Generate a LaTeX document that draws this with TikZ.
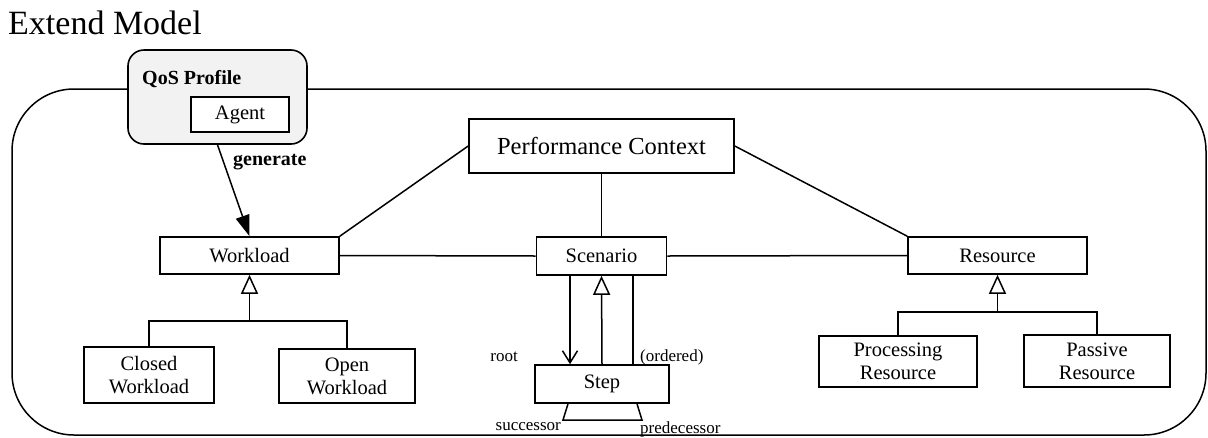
\documentclass[tikz,border=0pt]{standalone}
\usepackage{fontspec}
\setmainfont{Liberation Serif}
\usetikzlibrary{arrows.meta}

\tikzset{
  conn/.style={line width=1.5pt},
  cls/.style={draw, line width=1.6pt, fill=white, inner sep=0pt,
    font=\fontsize{20.5}{23}\selectfont, align=center},
  gen/.style={conn, -{Triangle[open, length=19pt, width=17pt, line width=1.5pt]}},
  nav/.style={conn, -{Straight Barb[length=12pt, width=15pt, line width=1.5pt]}},
  assoc/.style={conn, -{Triangle[length=21pt, width=14pt]}},
  rolelbl/.style={inner sep=0pt, font=\fontsize{17}{20}\selectfont},
  boldlbl/.style={inner sep=0pt, font=\fontsize{20}{23}\selectfont\bfseries},
}

\begin{document}
\begin{tikzpicture}[x=1pt, y=-1pt]
  \useasboundingbox (0,0) rectangle (1208,437);

  % title
  \node[anchor=base west, inner sep=0pt, font=\fontsize{34}{40}\selectfont] (title) at (8,34) {Extend Model};

  % enclosing package frame
  \draw[conn, rounded corners=62pt] (12,89) rectangle (1206,435);

  % QoS profile with its agent
  \node[draw, line width=1.6pt, rounded corners=16pt, fill=gray!10,
        minimum width=179pt, minimum height=94pt] (qos) at (217.5,97) {};
  \node[boldlbl, anchor=west] (qoslbl) at (142,79) {QoS Profile};
  \node[cls, minimum width=98pt, minimum height=35pt] (agent) at (240,114.5) {Agent};

  % classes
  \node[cls, minimum width=265pt, minimum height=54pt,
        font=\fontsize{24.5}{28}\selectfont] (pc) at (601.5,146) {Performance Context};
  \node[cls, minimum width=179pt, minimum height=37pt] (wl) at (249.5,255.5) {Workload};
  \node[cls, minimum width=130pt, minimum height=38pt] (scen) at (601.5,256) {Scenario};
  \node[cls, minimum width=179pt, minimum height=37pt] (res) at (997.5,255.5) {Resource};
  \node[cls, minimum width=130pt, minimum height=56pt] (cw) at (149,375) {Closed\\Workload};
  \node[cls, minimum width=136pt, minimum height=54pt] (ow) at (347,376) {Open\\Workload};
  \node[cls, minimum width=134pt, minimum height=38pt] (step) at (602,384) {Step};
  \node[cls, minimum width=158pt, minimum height=51pt] (pr) at (898,361.5) {Processing\\Resource};
  \node[cls, minimum width=146pt, minimum height=52pt] (pa) at (1097,361) {Passive\\Resource};

  % generate dependency
  \draw[assoc] (qos.south) -- (wl.north);
  \node[boldlbl, anchor=west] (genlbl) at (233,162) {generate};

  % associations around the performance context
  \draw[conn] (pc.west) -- (wl.north east);
  \draw[conn] (pc.east) -- (res.north west);
  \draw[conn] (pc.south) -- (scen.north);
  \draw[conn] (wl.east) -- (scen.west);
  \draw[conn] (scen.east) -- (res.west);

  % workload specialisations
  \coordinate (wjoin) at (249.5,321);
  \draw[conn] (cw.north) |- (wjoin) -| (ow.north);
  \draw[gen] (wjoin) -- (wl.south);

  % resource specialisations
  \coordinate (rjoin) at (997.5,312);
  \draw[conn] (pr.north) |- (rjoin) -| (pa.north);
  \draw[gen] (rjoin) -- (res.south);

  % scenario / step links
  \coordinate (rootx) at (570,0);
  \coordinate (ordx) at (633,0);
  \draw[nav] (scen.south -| rootx) -- (step.north -| rootx);
  \draw[gen] (step.north) -- (scen.south);
  \draw[conn] (scen.south -| ordx) -- (step.north -| ordx);
  \node[rolelbl, anchor=east] (rootlbl) at (518,357) {root};
  \node[rolelbl, anchor=west] (ordlbl) at (640,357) {(ordered)};

  % step self association
  \coordinate (sla) at (568,0);
  \coordinate (slb) at (637,0);
  \draw[conn] (step.south -| sla) -- (563,420) -- (642,420) -- (step.south -| slb);
  \node[rolelbl, anchor=east] (succlbl) at (561,427) {successor};
  \node[rolelbl, anchor=west] (predlbl) at (640,429) {predecessor};
\end{tikzpicture}
\end{document}
